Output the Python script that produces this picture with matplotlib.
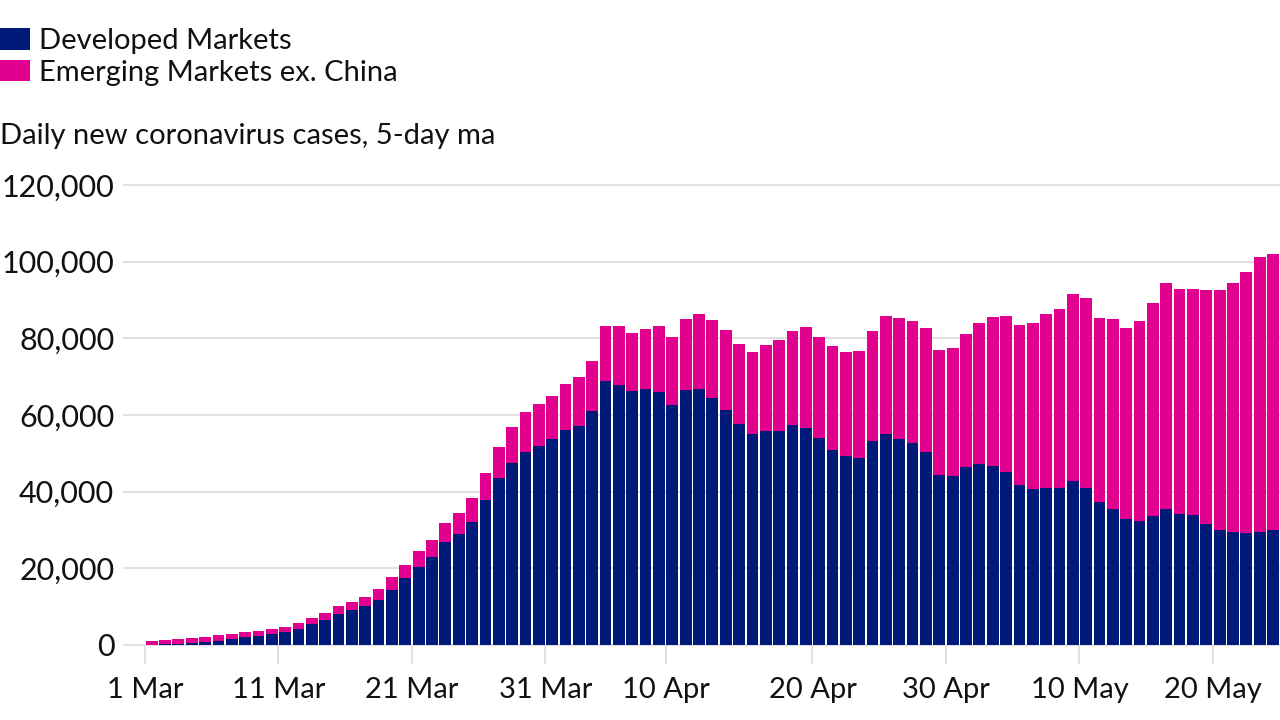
import matplotlib.pyplot as plt

def main():
    # Nilai, dalam ribuan kasus
    developed = [0.1, 0.2, 0.3, 0.5, 0.7, 1.1, 1.5, 2.0, 2.4, 2.9,
                 3.3, 4.2, 5.5, 6.5, 8.1, 9.1, 10.2, 11.7, 14.4, 17.4,
                 20.3, 22.9, 27.0, 29.0, 32.2, 37.8, 43.5, 47.6, 50.3, 51.9,
                 53.8, 56.0, 57.1, 61.1, 68.9, 67.8, 66.2, 66.9, 66.0, 62.6,
                 66.4, 66.8, 64.5, 61.4, 57.6, 55.0, 55.8, 55.8, 57.3, 56.7,
                 53.9, 50.9, 49.2, 48.9, 53.3, 55.1, 53.8, 52.6, 50.4, 44.3,
                 44.0, 46.4, 47.1, 46.6, 45.2, 41.8, 40.7, 41.0, 41.0, 42.8,
                 41.0, 37.3, 35.5, 32.9, 32.4, 33.7, 35.5, 34.1, 33.9, 31.6,
                 29.9, 29.5, 29.3, 29.6, 30.0]
    total = [1.1, 1.3, 1.65, 1.8, 2.2, 2.5, 3.0, 3.3, 3.7, 4.1,
             4.8, 5.7, 7.0, 8.3, 10.1, 11.2, 12.6, 14.5, 17.7, 21.0,
             24.4, 27.4, 31.9, 34.5, 38.4, 44.8, 51.6, 56.8, 60.7, 62.8,
             65.0, 68.2, 69.9, 74.2, 83.1, 83.1, 81.4, 82.4, 83.1, 80.3,
             85.1, 86.3, 84.8, 82.1, 78.4, 76.4, 78.2, 79.5, 82.0, 82.9,
             80.3, 77.9, 76.4, 76.8, 81.9, 85.7, 85.4, 84.4, 82.8, 77.0,
             77.4, 81.1, 83.9, 85.6, 85.7, 83.4, 84.1, 86.3, 87.7, 91.5,
             90.6, 85.2, 85.0, 82.6, 84.4, 89.1, 94.4, 92.9, 93.0, 92.5,
             92.6, 94.4, 97.4, 101.3, 101.9]
    developed = [v * 1000 for v in developed]
    emerging = [t * 1000 - d for t, d in zip(total, developed)]
    days = [i + 0.5 for i in range(len(total))]

    plt.rcParams['font.family'] = 'Lato'
    plt.figure(figsize=(12.8, 7.2), dpi=100)
    plt.axes([124 / 1280, 1 - 645 / 720, 1156 / 1280, 460 / 720])

    # Grafik batang bertumpuk
    plt.bar(days, developed, width=0.88, color='#001a7a', label='Developed Markets', zorder=2)
    plt.bar(days, emerging, width=0.88, bottom=developed, color='#e2008f', label='Emerging Markets ex. China', zorder=2)

    plt.xlim(-1.57, 85.02)
    plt.ylim(0, 120000)
    plt.grid(axis='y', color='#e0e0e0', linewidth=1.5, zorder=1)
    for side in ['top', 'right', 'left', 'bottom']:
        plt.gca().spines[side].set_visible(False)
    plt.gca().set_axisbelow(True)
    for line in plt.gca().get_ygridlines():
        line.set_clip_on(False)

    plt.yticks(range(0, 120001, 20000), [f'{v:,}' for v in range(0, 120001, 20000)], fontsize=22)
    # Label 10 Apr memang berada satu hari lebih awal
    plt.xticks([0, 10, 20, 30, 39, 50, 60, 70, 80],
               ['1 Mar', '11 Mar', '21 Mar', '31 Mar', '10 Apr', '20 Apr', '30 Apr', '10 May', '20 May'], fontsize=21)
    plt.tick_params(axis='y', length=0, pad=7, colors='#111111')
    plt.tick_params(axis='x', length=14, width=1.5, color='#e0e0e0', labelcolor='#111111', pad=9)

    plt.legend(loc='upper left', bbox_to_anchor=(0, 1 - 28 / 720), bbox_transform=plt.gcf().transFigure,
               frameon=False, fontsize=21, handlelength=1.03, handleheight=0.75, handletextpad=0.3,
               labelspacing=0.2, borderaxespad=0, borderpad=0, labelcolor='#111111')
    plt.figtext(0, 1 - 136 / 720, 'Daily new coronavirus cases, 5-day ma', fontsize=21, va='center', color='#111111')

    plt.savefig('out.png', dpi=100)

if __name__ == "__main__":
    main()
